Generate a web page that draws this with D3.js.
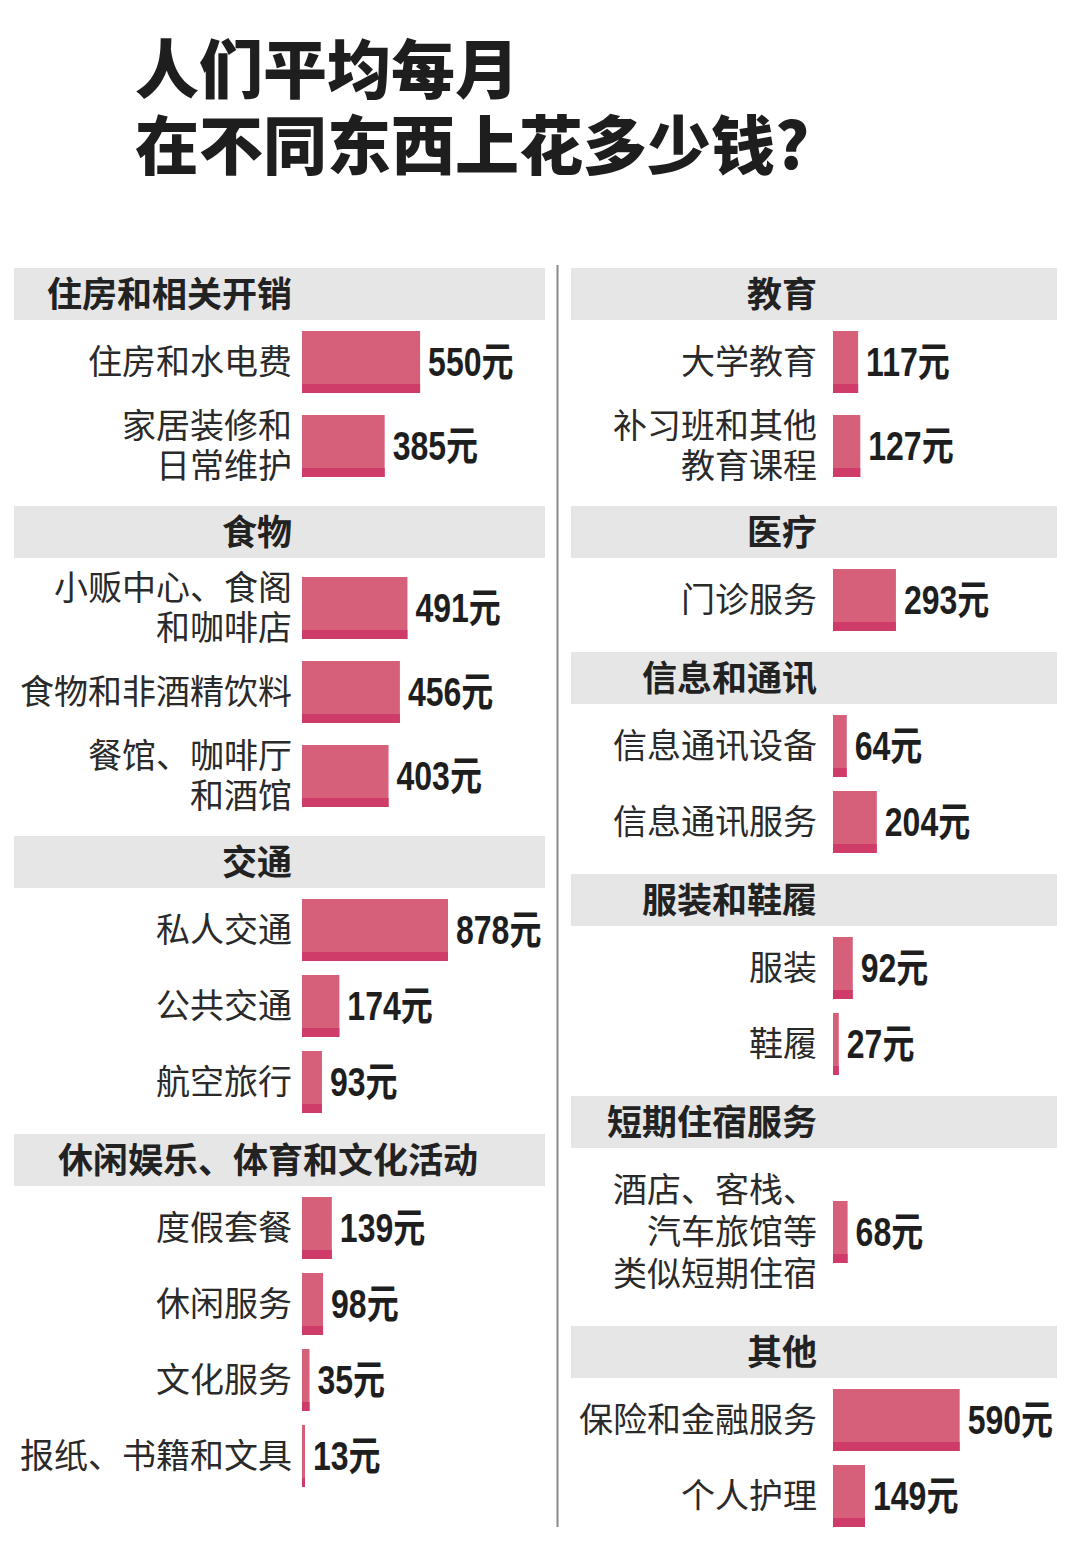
<!DOCTYPE html>
<html><head><meta charset="utf-8">
<script src="https://cdn.jsdelivr.net/npm/d3@7/dist/d3.min.js"></script>
<style>
html,body{margin:0;padding:0;background:#fff;}
svg{display:block;}
</style></head>
<body>
<svg id="chart" width="1080" height="1560"></svg>
<script>
// ---- data ----
const titleLines = ['人们平均每月', '在不同东西上花多少钱?'];
const sections = ['住房和相关开销','食物','交通','休闲娱乐、体育和文化活动','教育','医疗','信息和通讯','服装和鞋履','短期住宿服务','其他'];
const sectionColumn = [0,0,0,0,1,1,1,1,1,1];
const categories = ['住房和水电费','家居装修和\n日常维护','小贩中心、食阁\n和咖啡店','食物和非酒精饮料','餐馆、咖啡厅\n和酒馆',
  '私人交通','公共交通','航空旅行','度假套餐','休闲服务','文化服务','报纸、书籍和文具',
  '大学教育','补习班和其他\n教育课程','门诊服务','信息通讯设备','信息通讯服务','服装','鞋履',
  '酒店、客栈、\n汽车旅馆等\n类似短期住宿','保险和金融服务','个人护理'];
const values = [550,385,491,456,403,878,174,93,139,98,35,13,117,127,293,64,204,92,27,68,590,149];
const categorySection = [0,0,1,1,1,2,2,2,3,3,3,3,4,4,5,6,6,7,7,8,9,9];
const unit = '元';

// ---- layout ----
const svg = d3.select('#chart');
const CJK = '"Noto Sans CJK SC","Noto Sans CJK TC",sans-serif';
const NUM = '"Liberation Sans","Noto Sans CJK SC",sans-serif';
const mainColor = '#d6607a', darkColor = '#d03c69';
const cols = [
  {bandX0: 14, bandX1: 545, labelEdge: 292, barX: 302},
  {bandX0: 571, bandX1: 1057, labelEdge: 817, barX: 833}
];
const top0 = 268, headerH = 52, headerGap = 14, afterHeader = 4, barH = 62, stripH = 9;
const slotH = n => n === 1 ? 76 : (n === 2 ? 92 : 160);

const x = d3.scaleLinear().domain([0, 680]).range([0, 146]).clamp(true);

// title
svg.append('g').selectAll('text').data(titleLines).join('text')
  .attr('x', 135).attr('y', (d, i) => 93 + i * 76)
  .attr('font-family', CJK).attr('font-weight', 900).attr('font-size', 64)
  .attr('fill', '#1e1e1e').text(d => d);

// divider
svg.append('line').attr('x1', 557.5).attr('x2', 557.5).attr('y1', 265).attr('y2', 1527)
  .attr('stroke', '#8a8a8a').attr('stroke-width', 2);

cols.forEach((col, ci) => {
  let y = top0;
  const g = svg.append('g');
  sections.forEach((sec, si) => {
    if (sectionColumn[si] !== ci) return;
    if (y !== top0) y += headerGap;
    g.append('rect').attr('x', col.bandX0).attr('y', y)
      .attr('width', col.bandX1 - col.bandX0).attr('height', headerH).attr('fill', '#e6e6e6');
    const ht = g.append('text').attr('y', y + headerH / 2).attr('dy', '0.36em')
      .attr('font-family', CJK).attr('font-weight', 700).attr('font-size', 35)
      .attr('fill', '#222').text(sec);
    const w = ht.node().getComputedTextLength();
    if (w > col.labelEdge - col.bandX0) ht.attr('x', col.bandX0 + 44).attr('text-anchor', 'start');
    else ht.attr('x', col.labelEdge).attr('text-anchor', 'end');
    y += headerH + afterHeader;

    categories.forEach((cat, k) => {
      if (categorySection[k] !== si) return;
      const lines = cat.split('\n');
      const h = slotH(lines.length);
      const cy = y + h / 2;
      const bw = Math.max(3, x(values[k]));
      const row = g.append('g');
      row.append('rect').attr('x', col.barX).attr('y', cy - barH / 2)
        .attr('width', bw).attr('height', barH).attr('fill', mainColor);
      row.append('rect').attr('x', col.barX).attr('y', cy + barH / 2 - stripH)
        .attr('width', bw).attr('height', stripH).attr('fill', darkColor);
      const lh = lines.length === 3 ? 42 : 40;
      const lab = row.append('text').attr('text-anchor', 'end')
        .attr('font-family', CJK).attr('font-size', 34).attr('fill', '#2a2a2a');
      lab.selectAll('tspan').data(lines).join('tspan')
        .attr('x', col.labelEdge)
        .attr('y', (d, i) => cy + (i - (lines.length - 1) / 2) * lh).attr('dy', '0.36em')
        .text(d => d);
      row.append('text')
        .attr('transform', `translate(${col.barX + bw + 8},${cy}) scale(0.8,1)`)
        .attr('dy', '0.36em')
        .attr('font-family', NUM).attr('font-weight', 700).attr('font-size', 40)
        .attr('fill', '#1e1e1e').text(values[k] + unit);
      y += h;
    });
  });
});
</script>
</body></html>
